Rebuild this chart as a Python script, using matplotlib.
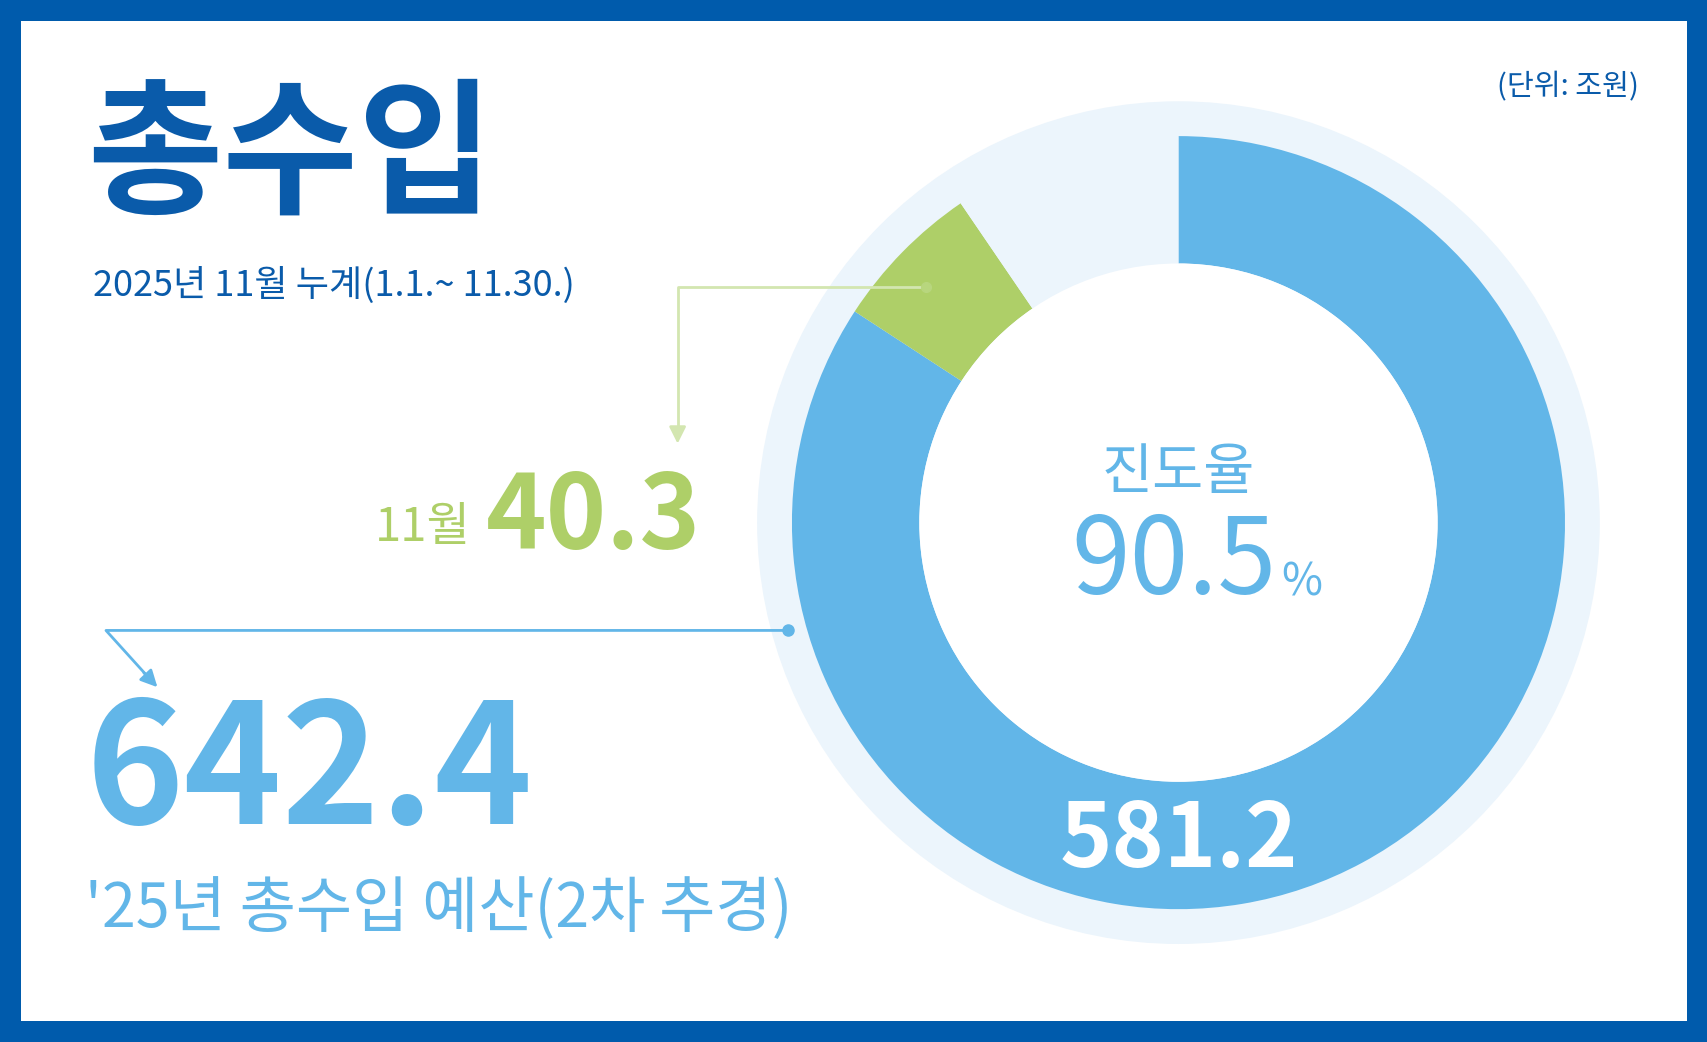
import matplotlib
matplotlib.use("Agg")
import matplotlib.pyplot as plt
from matplotlib.patches import Rectangle, Circle

plt.rcParams['font.family'] = ['Noto Sans CJK KR', 'DejaVu Sans']

labels = ["누계 진도", "11월", "미달성"]
values = [540.9, 40.3, 61.2]
cumulative = 581.2
november = 40.3
budget = 642.4
progress = 90.5

W, H = 1568, 957
fig = plt.figure(figsize=(17.08, 10.42), dpi=100)
ax = fig.add_axes([0, 0, 1, 1])

dark = "#0A5BAA"; blue = "#62B6E8"; green = "#AECF68"; light = "#ECF5FC"

ax.add_patch(Rectangle((0, 0), W, H, facecolor="#005BAC", edgecolor='none', zorder=0))
ax.add_patch(Rectangle((19, 19), W-38, H-38, facecolor="white", edgecolor='none', zorder=0.5))

cx, cy = 1082, 480
ax.add_patch(Circle((cx, cy), 387, facecolor=light, edgecolor='none', zorder=1))
wedges, _ = ax.pie(values, colors=[blue, green, light], startangle=-90, counterclock=True,
                   center=(cx, cy), radius=355, wedgeprops=dict(width=117, edgecolor='none'),
                   frame=True)
for p in wedges:
    p.set_zorder(2)
ax.add_patch(Circle((cx, cy), 238, facecolor="white", edgecolor='none', zorder=2.5))
ax.set_xlim(0, W); ax.set_ylim(H, 0); ax.axis('off')
ax.set_aspect('equal')

ax.text(80, 145, "총수입", fontsize=106, fontweight='heavy', color=dark, va='center', ha='left')
ax.text(85, 262, "2025년 11월 누계(1.1.~ 11.30.)", fontsize=26, color=dark, va='center', ha='left')
ax.text(1505, 80, "(단위: 조원)", fontsize=21, color=dark, va='center', ha='right')

ax.text(432, 485, "11월", fontsize=34, color=green, va='center', ha='right')
ax.text(446, 476, f"{november}", fontsize=74, fontweight='heavy', color=green, va='center', ha='left')

ax.text(78, 712, f"{budget}", fontsize=120, fontweight='heavy', color=blue, va='center', ha='left')
ax.text(78, 835, "'25년 총수입 예산(2차 추경)", fontsize=44, color=blue, va='center', ha='left')

ax.text(cx, 435, "진도율", fontsize=40, fontweight='medium', color=blue, va='center', ha='center', zorder=5)
ax.text(1172, 518, f"{progress}", fontsize=76, fontweight='light', color=blue, va='center', ha='right', zorder=5)
ax.text(1176, 535, "%", fontsize=32, fontweight='light', color=blue, va='center', ha='left', zorder=5)
ax.text(cx, 772, f"{cumulative}", fontsize=64, fontweight='heavy', color='white', va='center', ha='center', zorder=5)

# green leader
ax.plot([850, 622, 622], [264, 264, 398], color="#D3E6B0", lw=2, zorder=4)
ax.plot([850], [264], 'o', color="#B8D67E", ms=7, zorder=4)
ax.annotate("", xy=(622, 410), xytext=(622, 390),
            arrowprops=dict(arrowstyle='-|>', color="#D3E6B0", lw=2, mutation_scale=25), zorder=4)
# blue leader
ax.plot([723, 97, 135], [579, 579, 621], color=blue, lw=2, zorder=4)
ax.plot([723], [579], 'o', color=blue, ms=8, zorder=4)
ax.annotate("", xy=(146, 633), xytext=(130, 616),
            arrowprops=dict(arrowstyle='-|>', color=blue, lw=2, mutation_scale=25), zorder=4)

fig.savefig("out.png", dpi=100)
